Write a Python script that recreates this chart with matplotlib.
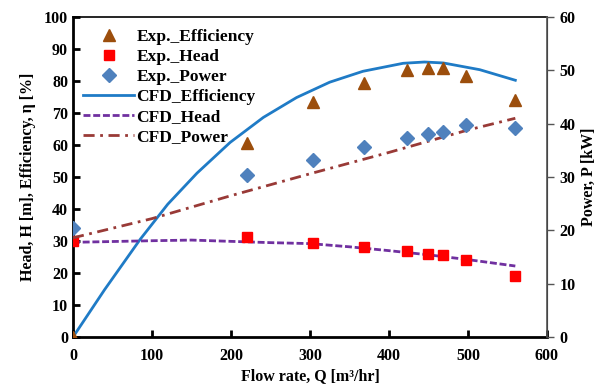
import numpy as np
import matplotlib.pyplot as plt
from matplotlib.lines import Line2D

plt.rcParams['font.family'] = ['Liberation Serif', 'DejaVu Serif']
plt.rcParams['font.weight'] = 'bold'

#### ========== Data ==========

# Experimental points
qExp    = [ 0, 220, 304, 368, 423, 449, 468, 497, 559 ]
effExp  = [ 0, 60.5, 73.5, 79.5, 83.5, 84.0, 84.0, 81.5, 74.0 ]
headExp = [ 30.0, 31.3, 29.5, 28.0, 27.0, 26.0, 25.5, 24.0, 19.0 ]
powExp  = [ 20.4, 30.3, 33.1, 35.6, 37.3, 38.1, 38.5, 39.7, 39.1 ]

# CFD curves
qEff   = [ 0, 40, 85, 120, 157, 199, 241, 283, 325, 367, 418, 445, 469, 515, 560 ]
effCFD = [ 0, 14.8, 30.5, 41.5, 51.2, 60.8, 68.6, 74.8, 79.6, 83.0, 85.5, 85.9, 85.6, 83.5, 80.2 ]

qHead   = [ 0, 100, 150, 200, 250, 300, 350, 400, 450, 500, 560 ]
headCFD = [ 29.6, 30.1, 30.3, 29.9, 29.5, 29.2, 28.2, 27.0, 25.7, 24.2, 22.2 ]

qPow   = [ 0, 100, 200, 300, 400, 500, 560 ]
powCFD = [ 18.6, 22.2, 26.5, 30.6, 34.6, 38.8, 41.0 ]

#### ========== Plot ==========

fig = plt.figure( figsize = ( 6.03, 3.92 ), dpi = 100 )
ax = fig.add_axes( [ 0.121, 0.140, 0.786, 0.817 ] )
ax2 = ax.twinx()

cEff   = '#9C4E0C'
cHead  = '#FF0000'
cPow   = '#4F81BD'
cEffL  = '#1F7BC6'
cHeadL = '#7030A0'
cPowL  = '#993A37'

ax.plot( qEff, effCFD, '-', color = cEffL, lw = 2.0, zorder = 3 )
ax.plot( qHead, headCFD, color = cHeadL, lw = 2.0, dashes = ( 2.5, 1.0 ), zorder = 3 )
ax2.plot( qPow, powCFD, color = cPowL, lw = 2.0, dashes = ( 4, 2, 1, 2 ), zorder = 3 )

ax.plot( qExp, effExp, '^', color = cEff, markersize = 9, ls = 'none', zorder = 4 )
ax.plot( qExp, headExp, 's', color = cHead, markersize = 7.5, ls = 'none', zorder = 4 )
ax2.plot( qExp, powExp, 'D', color = cPow, markersize = 7, ls = 'none', zorder = 4 )

ax.set_xlim( 0, 600 )
ax.set_ylim( 0, 100 )
ax2.set_ylim( 0, 60 )
ax.set_xticks( np.arange( 0, 601, 100 ) )
ax.set_yticks( np.arange( 0, 101, 10 ) )
ax2.set_yticks( np.arange( 0, 61, 10 ) )

ax.tick_params( axis = 'both', direction = 'in', length = 5, width = 2, labelsize = 11.5 )
ax.tick_params( axis = 'x', pad = 8 )
ax2.tick_params( axis = 'y', direction = 'out', length = 5, width = 1, color = '#555555', labelsize = 11.5, pad = 4 )

for s in [ 'left', 'bottom' ]:
    ax.spines[s].set_linewidth( 2.0 )
ax.spines['top'].set_linewidth( 1.2 )
ax2.spines['right'].set_color( '#555555' )
ax2.spines['right'].set_linewidth( 1.2 )
ax2.spines['left'].set_visible( False )
ax2.spines['bottom'].set_visible( False )
ax2.spines['top'].set_visible( False )

ax.set_xlabel( 'Flow rate, Q [m\u00b3/hr]', fontsize = 11.5, fontweight = 'bold', labelpad = 3 )
ax.set_ylabel( 'Head, H [m], Efficiency, \u03b7 [%]', fontsize = 11.5, fontweight = 'bold', labelpad = 6 )
ax2.set_ylabel( 'Power, P [kW]', fontsize = 11.5, fontweight = 'bold', labelpad = 4 )

handles = [
    Line2D( [], [], marker = '^', color = cEff, ls = 'none', markersize = 9 ),
    Line2D( [], [], marker = 's', color = cHead, ls = 'none', markersize = 7.5 ),
    Line2D( [], [], marker = 'D', color = cPow, ls = 'none', markersize = 7 ),
    Line2D( [], [], color = cEffL, lw = 2.0 ),
    Line2D( [], [], color = cHeadL, lw = 2.0, dashes = ( 2.5, 1.0 ) ),
    Line2D( [], [], color = cPowL, lw = 2.0, dashes = ( 4, 2, 1, 2 ) ),
]
labels = [ 'Exp._Efficiency', 'Exp._Head', 'Exp._Power',
           'CFD_Efficiency', 'CFD_Head', 'CFD_Power' ]
leg = ax2.legend( handles, labels, loc = 'upper left', bbox_to_anchor = ( 0.0, 0.995 ),
                  frameon = False, fontsize = 12.5, handlelength = 2.9,
                  handletextpad = 0.15, labelspacing = 0.22, borderaxespad = 0.2 )
for t in leg.get_texts():
    t.set_fontweight( 'bold' )

fig.savefig( 'out.png', dpi = 100 )
